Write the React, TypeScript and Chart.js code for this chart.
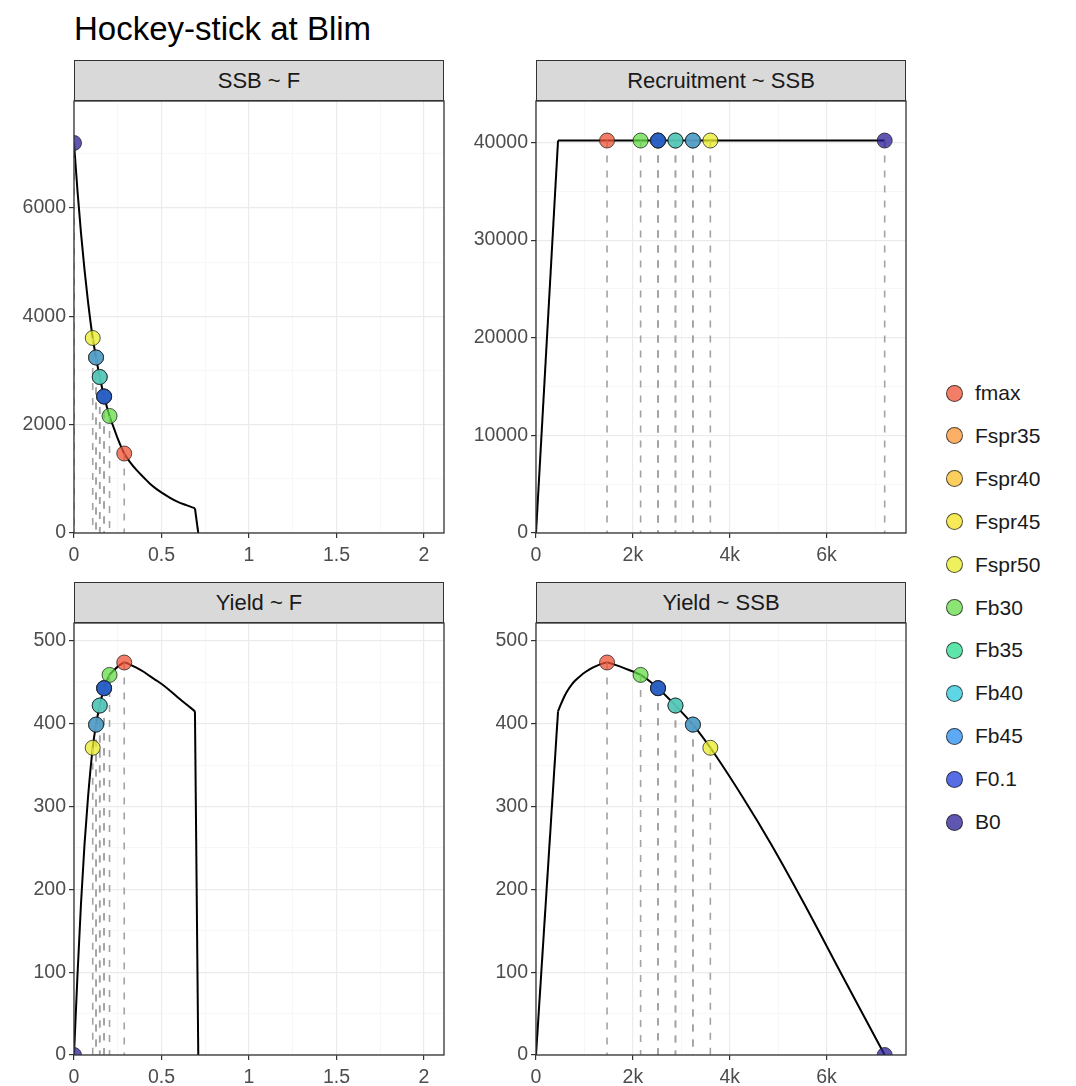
import React, { useEffect, useRef } from 'react';
import { Chart, registerables } from 'chart.js';

Chart.register(...registerables);

const FONT = "'Liberation Sans', Arial, Helvetica, sans-serif";

// ---- equilibrium curve ----
const curveF = [0, 0.02, 0.04, 0.06, 0.08, 0.107, 0.126, 0.147, 0.172, 0.203, 0.23, 0.25, 0.27, 0.287, 0.32, 0.358, 0.4, 0.434, 0.47, 0.501, 0.549, 0.587, 0.645, 0.691, 0.71];
const curveSSB = [7200, 6314, 5535, 4861, 4272, 3600, 3240, 2880, 2520, 2160, 1918, 1742, 1587, 1467, 1310, 1160, 1020, 910, 815, 745, 650, 585, 510, 455, 0];
const curveYield = [0, 97, 183, 254, 311, 371, 399, 422, 443, 459, 465, 469, 472, 474, 471.5, 467.5, 462.5, 457.5, 452.5, 448, 440, 433, 423, 415, 0];
const curveRec = [40200, 40200, 40200, 40200, 40200, 40200, 40200, 40200, 40200, 40200, 40200, 40200, 40200, 40200, 40200, 40200, 40200, 40200, 40200, 40200, 40200, 40200, 40200, 40200, 0];
// index of the last point before the stock collapses (hockey-stick breakpoint)
const collapseIndex = 23;

// ---- reference points ----
const refNames = ['fmax', 'Fspr35', 'Fspr40', 'Fspr45', 'Fspr50', 'Fb30', 'Fb35', 'Fb40', 'Fb45', 'F0.1', 'B0'];
const refF = [0.287, 0.172, 0.147, 0.126, 0.107, 0.203, 0.172, 0.147, 0.126, 0.172, 0];
const refSSB = [1467, 2520, 2880, 3240, 3600, 2160, 2520, 2880, 3240, 2520, 7200];
const refYield = [474, 443, 422, 399, 371, 459, 443, 422, 399, 443, 0];
const refRec = [40200, 40200, 40200, 40200, 40200, 40200, 40200, 40200, 40200, 40200, 40200];
const refColors = [
  'rgba(240,82,52,0.75)',
  'rgba(250,150,50,0.75)',
  'rgba(250,190,40,0.75)',
  'rgba(245,225,30,0.75)',
  'rgba(232,235,40,0.75)',
  'rgba(100,220,70,0.75)',
  'rgba(40,220,140,0.75)',
  'rgba(40,200,220,0.75)',
  'rgba(40,140,240,0.75)',
  'rgba(30,60,220,0.75)',
  'rgba(40,30,150,0.75)',
];

// ---- ticks ----
const fMajor = [0, 0.5, 1, 1.5, 2];
const fMinor = [0.25, 0.75, 1.25, 1.75];
const ssbXMajor = [0, 2000, 4000, 6000];
const ssbXLabels = ['0', '2k', '4k', '6k'];
const ssbXMinor = [1000, 3000, 5000, 7000];
const ssbYMajor = [0, 2000, 4000, 6000];
const ssbYMinor = [1000, 3000, 5000, 7000];
const recYMajor = [0, 10000, 20000, 30000, 40000];
const recYMinor = [5000, 15000, 25000, 35000];
const yieldYMajor = [0, 100, 200, 300, 400, 500];
const yieldYMinor = [50, 150, 250, 350, 450];

const PANEL_W = 370;
const PANEL_H = 432;
const AXIS_W = 74;
const AXIS_H = 40;
const PAD_T = 20;
const PAD_R = 12;

type PanelDef = {
  title: string;
  left: number;
  top: number;
  cx: number[];
  cy: number[];
  rx: number[];
  ry: number[];
  xMax: number;
  yMax: number;
  xMajor: number[];
  xMinor: number[];
  xLabel: (v: number) => string;
  yMajor: number[];
  yMinor: number[];
  smooth: boolean;
};

const fLabel = (v: number) => String(v);
const ssbLabel = (v: number) => ssbXLabels[ssbXMajor.indexOf(v)] ?? '';

const panels: PanelDef[] = [
  { title: 'SSB ~ F', left: 74, top: 101, cx: curveF, cy: curveSSB, rx: refF, ry: refSSB, xMax: 2.114, yMax: 7975, xMajor: fMajor, xMinor: fMinor, xLabel: fLabel, yMajor: ssbYMajor, yMinor: ssbYMinor, smooth: true },
  { title: 'Recruitment ~ SSB', left: 536, top: 101, cx: curveSSB, cy: curveRec, rx: refSSB, ry: refRec, xMax: 7640, yMax: 44250, xMajor: ssbXMajor, xMinor: ssbXMinor, xLabel: ssbLabel, yMajor: recYMajor, yMinor: recYMinor, smooth: false },
  { title: 'Yield ~ F', left: 74, top: 623, cx: curveF, cy: curveYield, rx: refF, ry: refYield, xMax: 2.114, yMax: 521.7, xMajor: fMajor, xMinor: fMinor, xLabel: fLabel, yMajor: yieldYMajor, yMinor: yieldYMinor, smooth: true },
  { title: 'Yield ~ SSB', left: 536, top: 623, cx: curveSSB, cy: curveYield, rx: refSSB, ry: refYield, xMax: 7640, yMax: 521.7, xMajor: ssbXMajor, xMinor: ssbXMinor, xLabel: ssbLabel, yMajor: yieldYMajor, yMinor: yieldYMinor, smooth: true },
];

const borderPlugin = {
  id: 'panelBorder',
  afterDraw(chart: any) {
    const { ctx, chartArea } = chart;
    ctx.save();
    ctx.strokeStyle = '#333333';
    ctx.lineWidth = 1.3;
    ctx.strokeRect(chartArea.left, chartArea.top, chartArea.right - chartArea.left, chartArea.bottom - chartArea.top);
    ctx.restore();
  },
};

function scaleOpts(min: number, max: number, major: number[], minor: number[], label: (v: number) => string, horizontal: boolean) {
  const all = [...major, ...minor].filter((v) => v >= min && v <= max).sort((a, b) => a - b);
  const isMajor = (v: number) => major.some((m) => Math.abs(m - v) < 1e-9);
  return {
    type: 'linear',
    min,
    max,
    afterBuildTicks(scale: any) {
      scale.ticks = all.map((v) => ({ value: v }));
    },
    afterFit(scale: any) {
      if (horizontal) scale.height = AXIS_H;
      else scale.width = AXIS_W;
    },
    ticks: {
      autoSkip: false,
      maxRotation: 0,
      minRotation: 0,
      padding: horizontal ? 6 : 3,
      color: '#4D4D4D',
      font: { family: FONT, size: 19.5 },
      callback: (v: number) => (isMajor(v) ? label(v) : ''),
    },
    grid: {
      drawTicks: true,
      tickLength: 5,
      color: (c: any) => (c.tick && isMajor(c.tick.value) ? '#EBEBEB' : '#F3F3F3'),
      lineWidth: (c: any) => (c.tick && isMajor(c.tick.value) ? 1.2 : 0.7),
      tickColor: (c: any) => (c.tick && isMajor(c.tick.value) ? '#333333' : 'rgba(0,0,0,0)'),
      tickWidth: 1.2,
    },
    border: { display: false },
  };
}

function PanelChart({ p }: { p: PanelDef }) {
  const ref = useRef<HTMLCanvasElement | null>(null);
  useEffect(() => {
    if (!ref.current) return;
    const pts = p.cx.map((x, i) => ({ x, y: p.cy[i] }));
    const datasets: any[] = [];
    // smooth equilibrium part
    datasets.push({
      type: 'scatter',
      showLine: true,
      data: pts.slice(0, collapseIndex + 1),
      borderColor: '#000000',
      borderWidth: 2,
      pointRadius: 0,
      tension: 0,
      cubicInterpolationMode: p.smooth ? 'monotone' : 'default',
      clip: 0,
      order: 30,
    });
    // collapse segment below the breakpoint
    datasets.push({
      type: 'scatter',
      showLine: true,
      data: pts.slice(collapseIndex),
      borderColor: '#000000',
      borderWidth: 2,
      pointRadius: 0,
      tension: 0,
      clip: 0,
      order: 30,
    });
    p.rx.forEach((x, i) => {
      datasets.push({
        type: 'scatter',
        showLine: true,
        data: [{ x, y: p.ry[i] }, { x, y: 0 }],
        borderColor: '#A3A3A3',
        borderWidth: 1.6,
        borderDash: [7, 8],
        pointRadius: 0,
        clip: 0,
        order: 20,
      });
    });
    p.rx.forEach((x, i) => {
      datasets.push({
        type: 'scatter',
        data: [{ x, y: p.ry[i] }],
        backgroundColor: refColors[i],
        borderColor: 'rgba(30,30,30,0.75)',
        borderWidth: 1,
        pointRadius: 7.5,
        clip: 0,
        order: 10 - i,
      });
    });
    const chart = new Chart(ref.current, {
      type: 'scatter',
      data: { datasets },
      options: {
        animation: false,
        responsive: false,
        maintainAspectRatio: false,
        events: [],
        layout: { padding: { top: PAD_T, right: PAD_R, left: 0, bottom: 0 } },
        plugins: { legend: { display: false }, tooltip: { enabled: false } },
        scales: {
          x: scaleOpts(0, p.xMax, p.xMajor, p.xMinor, p.xLabel, true) as any,
          y: scaleOpts(0, p.yMax, p.yMajor, p.yMinor, (v) => String(v), false) as any,
        },
      } as any,
      plugins: [borderPlugin],
    });
    return () => chart.destroy();
  }, [p]);
  return (
    <canvas
      ref={ref}
      width={AXIS_W + PANEL_W + PAD_R}
      height={PAD_T + PANEL_H + AXIS_H}
      style={{ position: 'absolute', left: p.left - AXIS_W, top: p.top - PAD_T, width: AXIS_W + PANEL_W + PAD_R, height: PAD_T + PANEL_H + AXIS_H }}
    />
  );
}

const STRIP_H = 41;
const LEG_X = 954;
const LEG_TEXT_X = 975;
const LEG_Y0 = 393;
const LEG_DY = 42.9;

export default function App() {
  return (
    <div style={{ position: 'fixed', left: 0, top: 0, width: 1076, height: 1086, background: '#ffffff', overflow: 'hidden', fontFamily: FONT }}>
      <div style={{ position: 'absolute', left: 74, top: 12, fontSize: 33, lineHeight: '33px', color: '#000', whiteSpace: 'nowrap' }}>Hockey-stick at Blim</div>
      {panels.map((p) => (
        <div
          key={p.title + 's'}
          style={{
            position: 'absolute',
            left: p.left,
            top: p.top - STRIP_H,
            width: PANEL_W,
            height: STRIP_H,
            boxSizing: 'border-box',
            background: '#D9D9D9',
            border: '1.3px solid #333333',
            display: 'flex',
            alignItems: 'center',
            justifyContent: 'center',
            fontSize: 22,
            color: '#1A1A1A',
            whiteSpace: 'nowrap',
          }}
        >
          {p.title}
        </div>
      ))}
      {panels.map((p) => (
        <PanelChart key={p.title} p={p} />
      ))}
      {refNames.map((n, i) => (
        <React.Fragment key={n}>
          <div
            style={{
              position: 'absolute',
              left: LEG_X - 8.5,
              top: LEG_Y0 + i * LEG_DY - 8.5,
              width: 17,
              height: 17,
              boxSizing: 'border-box',
              borderRadius: '50%',
              background: refColors[i],
              border: '1px solid rgba(30,30,30,0.75)',
            }}
          />
          <div
            style={{
              position: 'absolute',
              left: LEG_TEXT_X,
              top: LEG_Y0 + i * LEG_DY - 12,
              fontSize: 21,
              lineHeight: '24px',
              color: '#1A1A1A',
              whiteSpace: 'nowrap',
            }}
          >
            {n}
          </div>
        </React.Fragment>
      ))}
    </div>
  );
}
